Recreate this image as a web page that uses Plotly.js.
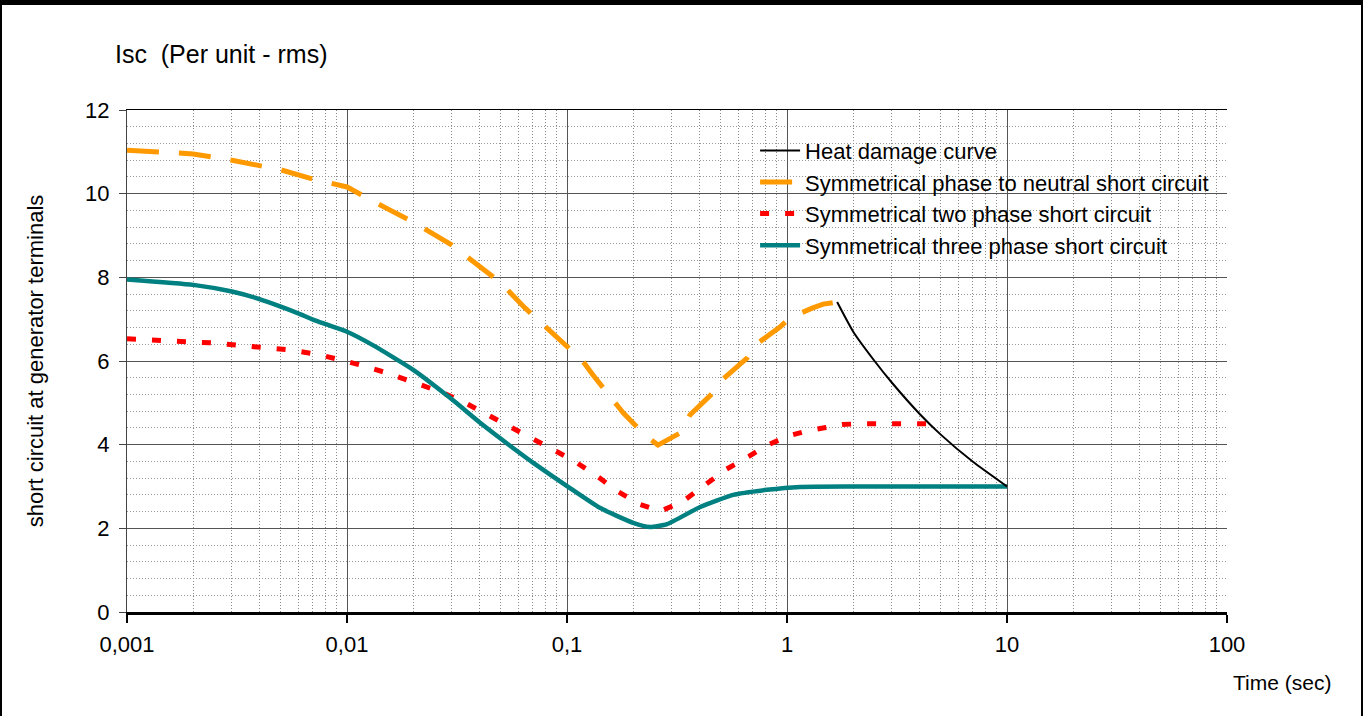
<!DOCTYPE html>
<html>
<head>
<meta charset="utf-8">
<script src="https://cdn.plot.ly/plotly-3.0.1.min.js"></script>
<style>
  html, body { margin: 0; padding: 0; background: #fff; }
  #wrap { position: relative; width: 1367px; height: 716px; overflow: hidden; }
  #chart { position: absolute; left: 0; top: 0; width: 1367px; height: 716px; }
  #frame {
    position: absolute; left: 0; top: 0; width: 1363px; height: 730px;
    box-sizing: border-box; pointer-events: none;
    border-top: 5px solid #000; border-left: 2px solid #000; border-right: 2px solid #000;
  }
</style>
</head>
<body>
<div id="wrap">
  <div id="chart"></div>
  <div id="frame"></div>
</div>
<script>
// Time axis (seconds, log scale) ticks
const tickTimes = [0.001, 0.01, 0.1, 1, 10, 100];
const tickTimeLabels = ['0,001', '0,01', '0,1', '1', '10', '100'];
const tickIsc = [0, 2, 4, 6, 8, 10, 12];

// Symmetrical phase to neutral short circuit
const timePhaseNeutral = [0.001, 0.0015, 0.002, 0.003, 0.005, 0.007, 0.009, 0.01,
  0.015, 0.02, 0.03, 0.05, 0.0644, 0.081, 0.09, 0.117, 0.131, 0.162, 0.18, 0.226, 0.259,
  0.327, 0.362, 0.461, 0.507, 0.658, 0.716, 0.929, 1.03, 1.31, 1.46, 1.69];
const iscPhaseNeutral = [11.04, 10.98, 10.95, 10.8, 10.57, 10.35, 10.23, 10.16,
  9.66, 9.32, 8.77, 7.87, 7.27, 6.79, 6.55, 6.02, 5.67, 5.07, 4.76, 4.23, 3.99,
  4.28, 4.71, 5.24, 5.55, 6.07, 6.38, 6.81, 7.03, 7.27, 7.36, 7.41];

// Symmetrical two phase short circuit
const timeTwoPhase = [0.001, 0.0015, 0.002, 0.0025, 0.0033, 0.0043, 0.0056, 0.0075, 0.01, 0.0112,
  0.0153, 0.02, 0.0273, 0.0344, 0.0437, 0.0565, 0.0705, 0.088, 0.107, 0.136,
  0.168, 0.215, 0.266, 0.335, 0.417, 0.529, 0.671, 0.815, 1.016, 1.24,
  1.5, 1.78, 2.11, 2.94, 4.61];
const iscTwoPhase = [6.53, 6.49, 6.46, 6.43, 6.37, 6.31, 6.26, 6.15, 6.0, 5.92,
  5.71, 5.5, 5.24, 5.0, 4.71, 4.41, 4.15, 3.88, 3.62, 3.26,
  2.9, 2.57, 2.41, 2.64, 3.02, 3.41, 3.72, 3.99, 4.21, 4.33,
  4.41, 4.48, 4.5, 4.5, 4.5];

// Symmetrical three phase short circuit
const timeThreePhase = [0.001, 0.002, 0.003, 0.004, 0.005, 0.006, 0.007, 0.008, 0.01, 0.0131,
  0.02, 0.0294, 0.0415, 0.061, 0.07, 0.1, 0.141, 0.2, 0.238, 0.285,
  0.403, 0.569, 0.81, 1.146, 2, 10];
const iscThreePhase = [7.95, 7.82, 7.66, 7.48, 7.3, 7.14, 6.99, 6.88, 6.7, 6.38,
  5.79, 5.12, 4.47, 3.8, 3.57, 3.01, 2.49, 2.13, 2.03, 2.1,
  2.51, 2.8, 2.92, 2.99, 3.0, 3.0];

// Heat damage curve
const timeHeat = [1.69, 2, 2.5, 3, 4, 5, 7, 10];
const iscHeat = [7.41, 6.7, 6.0, 5.48, 4.74, 4.24, 3.59, 3.0];

const FONT = '"Liberation Sans", Arial, Helvetica, sans-serif';

// sub-decade grid positions: 2..9 within each decade of the time axis
const minorTimes = [];
for (let d = -3; d < 2; d++) {
  for (let m = 2; m <= 9; m++) minorTimes.push(m * Math.pow(10, d));
}

const traces = [
  {
    name: 'Symmetrical phase to neutral short circuit', legendrank: 2,
    x: timePhaseNeutral, y: iscPhaseNeutral, mode: 'lines',
    line: { color: '#FF9900', width: 5, dash: '32px,20px' }
  },
  {
    name: 'Symmetrical two phase short circuit', legendrank: 3,
    x: timeTwoPhase, y: iscTwoPhase, mode: 'lines',
    line: { color: '#FF0000', width: 5, dash: '9px,16px' }
  },
  {
    name: 'Symmetrical three phase short circuit', legendrank: 4,
    x: timeThreePhase, y: iscThreePhase, mode: 'lines',
    line: { color: '#008080', width: 4.5, shape: 'spline', smoothing: 0.5 }
  },
  {
    // drawn on the overlay time axis (same log range) so it sits on top
    name: 'Heat damage curve', legendrank: 1, xaxis: 'x3',
    x: timeHeat, y: iscHeat, mode: 'lines',
    line: { color: '#000000', width: 2, shape: 'spline', smoothing: 0.5 }
  }
];

const dotted = '1px,2px';

// white backing behind each legend label (paper coordinates)
function labelBacking(x1, yTop, yBot) {
  return {
    type: 'rect', xref: 'paper', yref: 'paper', layer: 'between',
    x0: 0.6118, x1: x1, y0: yBot, y1: yTop,
    fillcolor: '#ffffff', line: { width: 0 }
  };
}

const layout = {
  width: 1367, height: 716,
  margin: { l: 127, r: 140, t: 110, b: 104 },
  paper_bgcolor: '#ffffff', plot_bgcolor: '#ffffff',
  font: { family: FONT, size: 22, color: '#000' },
  title: {
    text: 'Isc&nbsp; (Per unit - rms)',
    font: { family: FONT, size: 25, color: '#000' },
    xref: 'container', x: 0.0841, xanchor: 'left',
    yref: 'container', y: 0.9246, yanchor: 'middle'
  },
  showlegend: true,
  legend: {
    x: 0.571, y: 0.961, xanchor: 'left', yanchor: 'top',
    bgcolor: 'rgba(0,0,0,0)', borderwidth: 0,
    font: { family: FONT, size: 22, color: '#000' },
    itemwidth: 40, traceorder: 'normal'
  },
  shapes: [
    labelBacking(0.7964, 0.9402, 0.8924),
    labelBacking(0.9891, 0.8785, 0.8307),
    labelBacking(0.9364, 0.8167, 0.7689),
    labelBacking(0.9509, 0.7530, 0.7052)
  ],
  xaxis: {
    type: 'log', range: [-3, 2],
    tickmode: 'array', tickvals: tickTimes, ticktext: tickTimeLabels,
    ticks: 'outside', ticklen: 8, tickwidth: 2, tickcolor: '#000',
    ticklabelstandoff: 3,
    showline: true, linecolor: '#000', linewidth: 3,
    showgrid: true, gridcolor: '#555', gridwidth: 1, zeroline: false,
    tickfont: { family: FONT, size: 22, color: '#000' }
  },
  // inner halves of the bottom tick marks
  xaxis2: {
    type: 'log', range: [-3, 2], overlaying: 'x', anchor: 'y', side: 'bottom',
    tickmode: 'array', tickvals: tickTimes,
    ticks: 'inside', ticklen: 8, tickwidth: 2, tickcolor: '#000',
    showticklabels: false, showgrid: false, showline: false, zeroline: false
  },
  // top frame line plus the dotted 2..9 sub-decade grid
  xaxis3: {
    type: 'log', range: [-3, 2], overlaying: 'x', anchor: 'y', side: 'top',
    showline: true, linecolor: '#000', linewidth: 1,
    tickmode: 'array', tickvals: minorTimes,
    ticks: '', showticklabels: false, zeroline: false,
    showgrid: true, gridcolor: '#8a8a8a', griddash: dotted, gridwidth: 1
  },
  yaxis: {
    range: [0, 12], tickmode: 'array', tickvals: tickIsc,
    ticks: 'outside', ticklen: 7, tickwidth: 1, tickcolor: '#444',
    ticklabelstandoff: 5,
    showline: true, linecolor: '#444', linewidth: 1,
    showgrid: true, gridcolor: '#555', gridwidth: 1, zeroline: false,
    minor: { dtick: 0.4, showgrid: true, gridcolor: '#999', griddash: dotted, gridwidth: 1, ticks: '' },
    tickfont: { family: FONT, size: 22, color: '#000' },
    title: {
      text: 'short circuit at generator terminals',
      font: { family: FONT, size: 22, color: '#000' },
      standoff: 35
    }
  },
  yaxis2: {
    range: [0, 12], overlaying: 'y', anchor: 'x', side: 'left',
    tickmode: 'array', tickvals: tickIsc,
    ticks: 'inside', ticklen: 6, tickwidth: 1, tickcolor: '#444',
    showticklabels: false, showgrid: false, showline: false, zeroline: false
  },
  yaxis3: {
    range: [0, 12], overlaying: 'y', anchor: 'x', side: 'right',
    showline: true, linecolor: '#000', linewidth: 1,
    ticks: '', showticklabels: false, showgrid: false, zeroline: false
  },
  annotations: [
    {
      text: 'Time (sec)', xref: 'paper', yref: 'paper',
      x: 1.0964, y: -0.1414, xanchor: 'right', yanchor: 'middle',
      showarrow: false, font: { family: FONT, size: 21, color: '#000' }
    }
  ]
};

Plotly.newPlot('chart', traces, layout, { staticPlot: true, displayModeBar: false });
</script>
</body>
</html>
